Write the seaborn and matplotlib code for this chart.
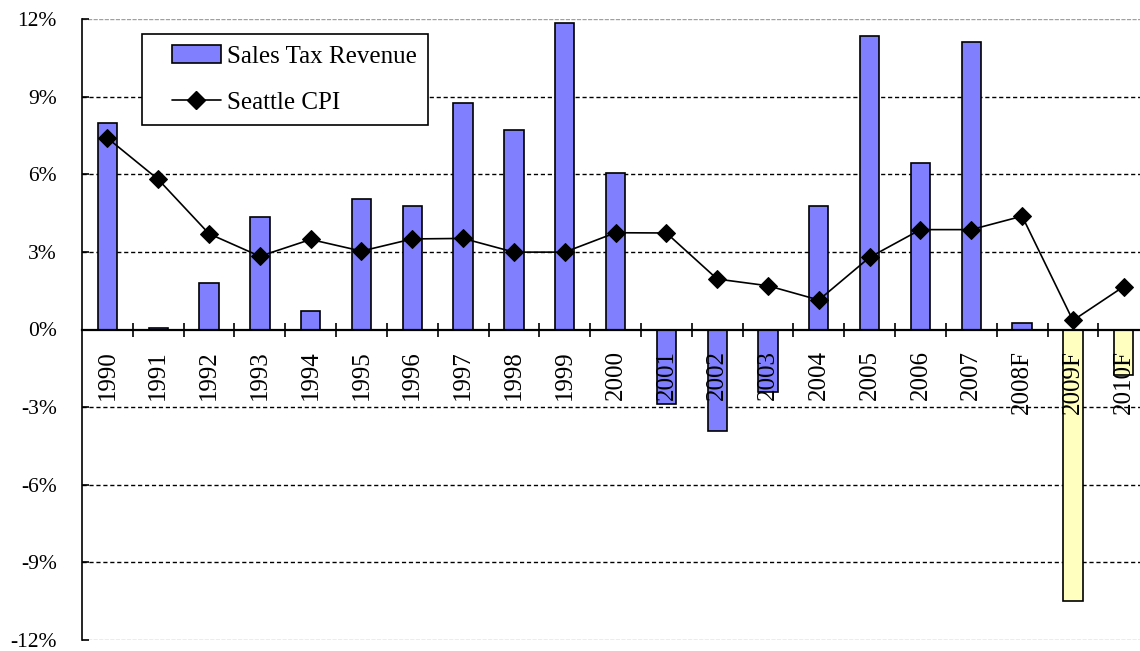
import numpy as np
import pandas as pd
import seaborn as sns
import matplotlib.pyplot as plt
from matplotlib.patches import Patch
from matplotlib.lines import Line2D
from matplotlib.legend_handler import HandlerPatch, HandlerLine2D

# data (annual % change)
years = ["1990", "1991", "1992", "1993", "1994", "1995", "1996", "1997", "1998", "1999",
         "2000", "2001", "2002", "2003", "2004", "2005", "2006", "2007", "2008F", "2009F", "2010F"]
sales_tax = [8.0, 0.05, 1.8, 4.35, 0.7, 5.05, 4.78, 8.75, 7.72, 11.85,
             6.05, -2.86, -3.91, -2.43, 4.77, 11.35, 6.45, 11.1, 0.27, -10.48, -1.74]
seattle_cpi = [7.4, 5.8, 3.7, 2.83, 3.48, 3.03, 3.5, 3.52, 2.99, 2.99,
               3.74, 3.73, 1.95, 1.69, 1.14, 2.79, 3.86, 3.86, 4.38, 0.35, 1.66]
forecast = ["2009F", "2010F"]
ytick_vals = [-12, -9, -6, -3, 0, 3, 6, 9, 12]
ytick_labels = ["-12%", "-9%", "-6%", "-3%", "0%", "3%", "6%", "9%", "12%"]

blue = "#8080ff"
yellow = "#ffffc0"
bar_colors = [yellow if y in forecast else blue for y in years]

df = pd.DataFrame({"year": years, "sales": sales_tax, "cpi": seattle_cpi})
df["pos"] = np.arange(len(df))

sns.set_style("ticks")
plt.rcParams["font.family"] = ["Liberation Serif", "DejaVu Serif"]
plt.rcParams["axes.unicode_minus"] = False
plt.rcParams["text.color"] = "black"
plt.rcParams["xtick.color"] = "black"
plt.rcParams["ytick.color"] = "black"

fig = plt.figure(figsize=(11.4, 6.51), dpi=100)
ax = fig.add_axes([82 / 1140, 11 / 651, 1058 / 1140, 621 / 651])

# gridlines behind everything
for v in ytick_vals:
    if abs(v) == 12:
        ax.axhline(v, color="#a0a0a0", lw=1.0, ls=(0, (3, 1)), zorder=0)
    elif v != 0:
        ax.axhline(v, color="black", lw=1.0, ls=(0, (3, 2)), zorder=0)

sns.barplot(data=df, x="year", y="sales", hue="year", palette=bar_colors, legend=False,
            width=0.38, saturation=1, edgecolor="black", linewidth=1.2, ax=ax, zorder=1)
sns.lineplot(data=df, x="pos", y="cpi", color="black", lw=1.2, marker="D",
             markersize=9, markeredgecolor="black", ax=ax, zorder=3)

n = len(years)
ax.set_axisbelow(False)
ax.set_xlim(-0.5, 20.32)
ax.set_ylim(-12, 12)
ax.set_xlabel("")
ax.set_ylabel("")

# y axis
ax.set_yticks(ytick_vals)
ax.set_yticklabels(ytick_labels, fontsize=15.5)
ax.tick_params(axis="y", direction="in", length=5, width=1.2, pad=18, colors="black")

# x axis: spine at zero, ticks between categories, labels at centres
ax.spines["bottom"].set_position(("data", 0))
ax.spines["bottom"].set_linewidth(1.6)
ax.spines["left"].set_linewidth(1.2)
ax.spines["left"].set_color("black")
ax.spines["bottom"].set_color("black")
ax.spines["top"].set_visible(False)
ax.spines["right"].set_visible(False)
ax.set_xticks(np.arange(n - 1) + 0.5)
ax.set_xticklabels([])
ax.tick_params(axis="x", which="major", direction="inout", length=10, width=1.2, color="black")
ax.set_xticks(np.arange(n), minor=True)
ax.set_xticklabels(years, minor=True, rotation=90, fontsize=18, va="top")
ax.tick_params(axis="x", which="minor", length=0, pad=15, labelcolor="black")

handles = [Patch(facecolor=blue, edgecolor="black", linewidth=1.2),
           Line2D([], [], color="black", lw=1.2, marker="D", markersize=9)]
leg = ax.legend(handles, ["Sales Tax Revenue", "Seattle CPI"], loc="upper left",
                bbox_to_anchor=(0.0567, 0.976), borderaxespad=0, fontsize=18,
                frameon=True, fancybox=False, framealpha=1, edgecolor="black",
                borderpad=0.45, handlelength=2.7, handletextpad=0.25, labelspacing=0.95,
                handler_map={Patch: HandlerPatch(xpad=0.75), Line2D: HandlerLine2D(xpad=0.75)})
leg.get_frame().set_linewidth(1.2)
for t in leg.get_texts():
    t.set_color("black")

fig.savefig("out.png", dpi=100)
